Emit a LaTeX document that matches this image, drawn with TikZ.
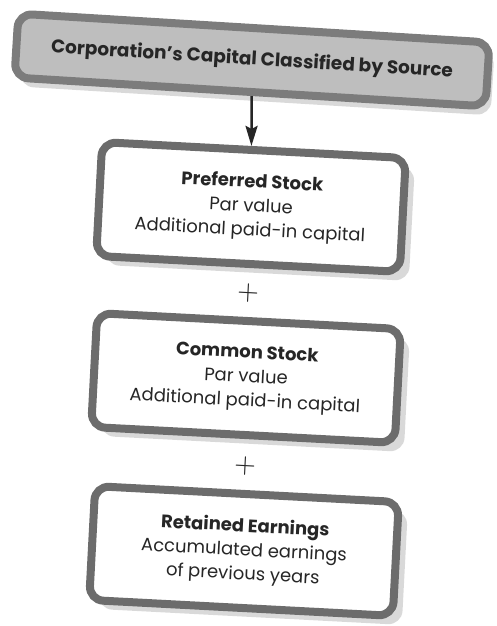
\documentclass[tikz,border=0pt]{standalone}
\usepackage{fontspec}
\setmainfont{Poppins}
\usepackage{tikz}
\usetikzlibrary{arrows,arrows.meta,shapes,positioning,shadows}
\definecolor{frame}{HTML}{6C6C6C}
\definecolor{banner}{HTML}{BEBEBE}
\definecolor{bannerframe}{HTML}{7C7C7C}
\definecolor{shade}{HTML}{B4B4B4}
\definecolor{ink}{HTML}{262626}
\newcommand{\plussign}{\scalebox{2.8}{$+$}}
\tikzset{
  every picture/.style = {
    thick,
    >={Stealth[length=20pt,width=12pt,inset=3pt]},
    x = 1pt,
    y = 1pt
  }
  ,
  source/.style = {
    rectangle,
    rounded corners = 14pt,
    rotate = -3.5,
    draw = bannerframe,
    line width = 8pt,
    fill = banner,
    minimum width = 472pt,
    minimum height = 64pt,
    text = ink,
    font = \fontsize{18.5}{20}\selectfont\bfseries,
    drop shadow = {shadow xshift = 5pt, shadow yshift = -9pt, fill = shade}
  }
  , % the three parts of capital
  part/.style = {
    rectangle,
    rounded corners = 14pt,
    rotate = -3,
    draw = frame,
    line width = 8pt,
    fill = white,
    minimum width = 304pt,
    minimum height = 114pt,
    align = center,
    text = ink,
    font = \fontsize{18}{24}\selectfont,
    drop shadow = {shadow xshift = 9pt, shadow yshift = -9pt, fill = shade}
  }
  , % plus signs between the parts
  sum/.style = {
    rotate = -3,
    text = ink
  }
}

\begin{document}
\begin{tikzpicture}
  \useasboundingbox (0,0) rectangle (496,-626);

  \node at (252,-60) [source] (src) {Corporation's Capital Classified by Source};
  \node at (251,-207) [part] (pref) {\textbf{Preferred Stock}\\Par value\\Additional paid-in capital};
  \node at (246,-378) [part] (common) {\textbf{Common Stock}\\Par value\\Additional paid-in capital};
  \node at (244,-551) [part] (retained) {\textbf{Retained Earnings}\\Accumulated earnings\\of previous years};
  \node at (248,-293) [sum] (plus1) {\plussign};
  \node at (245,-466) [sum] (plus2) {\plussign};

  \path (src) edge [->, line width = 2.5pt, ink] (pref);
\end{tikzpicture}
\end{document}
